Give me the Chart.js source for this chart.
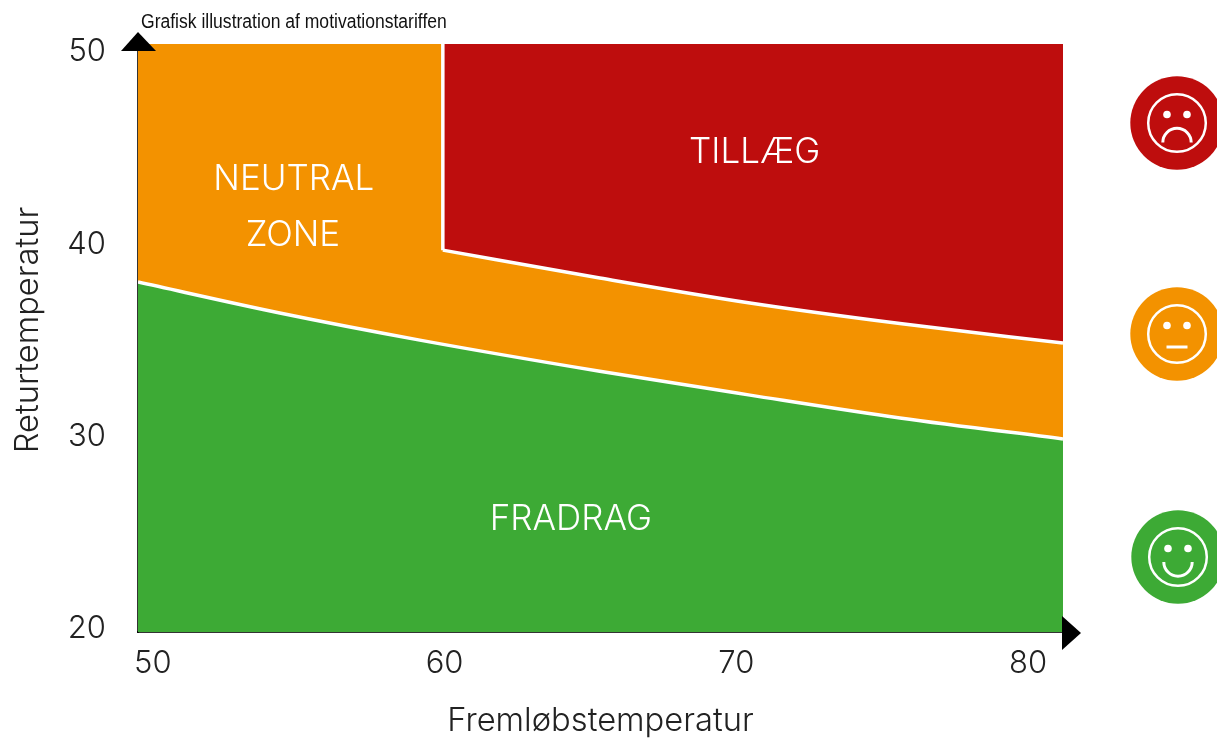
<!DOCTYPE html>
<html>
<head>
<meta charset="utf-8">
<script src="https://cdn.jsdelivr.net/npm/chart.js@4"></script>
<style>
  html, body { margin: 0; padding: 0; background: #fff; overflow: hidden; }
  canvas { display: block; }
</style>
</head>
<body>
<canvas id="myChart" width="1217" height="738"></canvas>
<script>
const titleText = "Grafisk illustration af motivationstariffen";
const xAxisTitle = "Fremløbstemperatur";
const yAxisTitle = "Returtemperatur";
const xTicks = [50, 60, 70, 80];
const yTicks = [20, 30, 40, 50];

// axis ends sit a little past the tick values, as in the picture
const xRange = [49.49, 81.2];
const yRange = [19.84, 50.42];

// boundary neutral / fradrag
const lowerX = [49.49, 54.35, 59.15, 65.32, 70.47, 75.61, 81.2];
const lowerY = [38.04, 36.43, 35.02, 33.4, 32.16, 30.97, 29.88];
// boundary neutral / tillaeg
const upperX = [59.94, 65.32, 70.47, 75.61, 81.2];
const upperY = [39.7, 38.25, 36.95, 35.88, 34.87];
// vertical step at 60
const stepX = [59.94, 59.94];
const stepY = [50.42, 39.7];

const zoneNames = ["TILLÆG", "NEUTRAL", "ZONE", "FRADRAG"];
const zoneX = [70.63, 54.83, 54.8, 64.33];
const zoneY = [44.78, 43.38, 40.44, 25.69];

const ORANGE = "#F39200";
const RED = "#BE0D0D";
const GREEN = "#3DAA35";
const THIN = "Inter, 'Open Sans', sans-serif";

function toPoints(xs, ys) {
  return xs.map((x, i) => ({ x: x, y: ys[i] }));
}

function triangle(ctx, a, b, c) {
  ctx.beginPath();
  ctx.moveTo(a[0], a[1]);
  ctx.lineTo(b[0], b[1]);
  ctx.lineTo(c[0], c[1]);
  ctx.closePath();
  ctx.fill();
}

function smiley(ctx, cx, cy, color, mood) {
  ctx.fillStyle = color;
  ctx.beginPath();
  ctx.arc(cx, cy, 46.7, 0, Math.PI * 2);
  ctx.fill();
  ctx.strokeStyle = "#fff";
  ctx.fillStyle = "#fff";
  ctx.lineWidth = 2.5;
  ctx.beginPath();
  ctx.arc(cx, cy, 28.8, 0, Math.PI * 2);
  ctx.stroke();
  [-10, 10].forEach(dx => {
    ctx.beginPath();
    ctx.arc(cx + dx, cy - 8.5, 3.8, 0, Math.PI * 2);
    ctx.fill();
  });
  ctx.lineWidth = 3;
  ctx.beginPath();
  if (mood == "sad") {
    ctx.arc(cx, cy + 19.5, 14.2, Math.PI, Math.PI * 2);
  } else if (mood == "flat") {
    ctx.moveTo(cx - 10.5, cy + 13);
    ctx.lineTo(cx + 10.5, cy + 13);
  } else {
    ctx.arc(cx, cy + 5, 14.2, 0, Math.PI);
  }
  ctx.stroke();
}

const extras = {
  id: "extras",
  afterDraw(chart) {
    const ctx = chart.ctx;
    const sx = chart.scales.x;
    const sy = chart.scales.y;
    ctx.save();

    // arrow heads on the axes
    ctx.fillStyle = "#000";
    triangle(ctx, [138, 32], [121, 51], [156, 51]);
    triangle(ctx, [1062, 616], [1081, 633], [1062, 650]);

    // zone names
    ctx.fillStyle = "#fff";
    ctx.font = "300 35px " + THIN;
    ctx.textAlign = "center";
    ctx.textBaseline = "middle";
    zoneNames.forEach((name, i) => {
      ctx.fillText(name, sx.getPixelForValue(zoneX[i]), sy.getPixelForValue(zoneY[i]));
    });

    // y axis title
    ctx.fillStyle = "#222";
    ctx.font = "300 32.7px " + THIN;
    ctx.save();
    ctx.translate(28, 330);
    ctx.rotate(-Math.PI / 2);
    ctx.fillText(yAxisTitle, 0, 0);
    ctx.restore();

    // heading, squeezed because the original uses a condensed cut
    ctx.fillStyle = "#111";
    ctx.font = "20px 'Liberation Sans', sans-serif";
    ctx.textAlign = "left";
    ctx.textBaseline = "alphabetic";
    ctx.translate(141, 28);
    ctx.scale(0.877, 1);
    ctx.fillText(titleText, 0, 0);
    ctx.restore();

    ctx.save();
    smiley(ctx, 1177, 123, RED, "sad");
    smiley(ctx, 1177, 334, ORANGE, "flat");
    smiley(ctx, 1178, 557, GREEN, "happy");
    ctx.restore();
  }
};

const config = {
  type: "line",
  data: {
    datasets: [
      {
        label: "Trin",
        data: toPoints(stepX, stepY),
        borderColor: "#fff",
        borderWidth: 3.5,
        fill: false,
        pointRadius: 0
      },
      {
        label: "Tillæg",
        data: toPoints(upperX, upperY),
        borderColor: "#fff",
        borderWidth: 3.5,
        backgroundColor: RED,
        fill: "end",
        pointRadius: 0,
        cubicInterpolationMode: "monotone"
      },
      {
        label: "Fradrag",
        data: toPoints(lowerX, lowerY),
        borderColor: "#fff",
        borderWidth: 3.5,
        backgroundColor: GREEN,
        fill: "start",
        pointRadius: 0,
        cubicInterpolationMode: "monotone"
      },
      {
        label: "Neutral zone",
        data: toPoints(xRange, [yRange[1], yRange[1]]),
        borderWidth: 0,
        backgroundColor: ORANGE,
        fill: "start",
        pointRadius: 0
      }
    ]
  },
  options: {
    responsive: false,
    animation: false,
    layout: { padding: { top: 44, right: 154, left: 0, bottom: 0 } },
    plugins: {
      legend: { display: false },
      title: { display: false },
      tooltip: { enabled: false }
    },
    scales: {
      x: {
        type: "linear",
        min: xRange[0],
        max: xRange[1],
        afterBuildTicks: axis => { axis.ticks = xTicks.map(v => ({ value: v })); },
        afterFit: axis => { axis.height = 106; axis.paddingLeft = 0; axis.paddingRight = 0; },
        grid: { display: false, drawTicks: false },
        border: { display: true, color: "rgba(0,0,0,0.8)", width: 2 },
        ticks: {
          color: "#222",
          padding: 13,
          maxRotation: 0,
          font: { family: THIN, size: 31, weight: 300 }
        },
        title: {
          display: true,
          text: xAxisTitle,
          color: "#222",
          padding: { top: 4, bottom: -3 },
          font: { family: THIN, size: 32.7, weight: 300 }
        }
      },
      y: {
        min: yRange[0],
        max: yRange[1],
        afterBuildTicks: axis => { axis.ticks = yTicks.map(v => ({ value: v })); },
        afterFit: axis => { axis.width = 138; axis.paddingTop = 0; axis.paddingBottom = 0; },
        grid: { display: false, drawTicks: false },
        border: { display: true, color: "rgba(0,0,0,0.8)", width: 2 },
        ticks: {
          color: "#222",
          padding: 32,
          font: { family: THIN, size: 31, weight: 300 }
        }
      }
    }
  },
  plugins: [extras]
};

new Chart(document.getElementById("myChart"), config);
</script>
</body>
</html>
